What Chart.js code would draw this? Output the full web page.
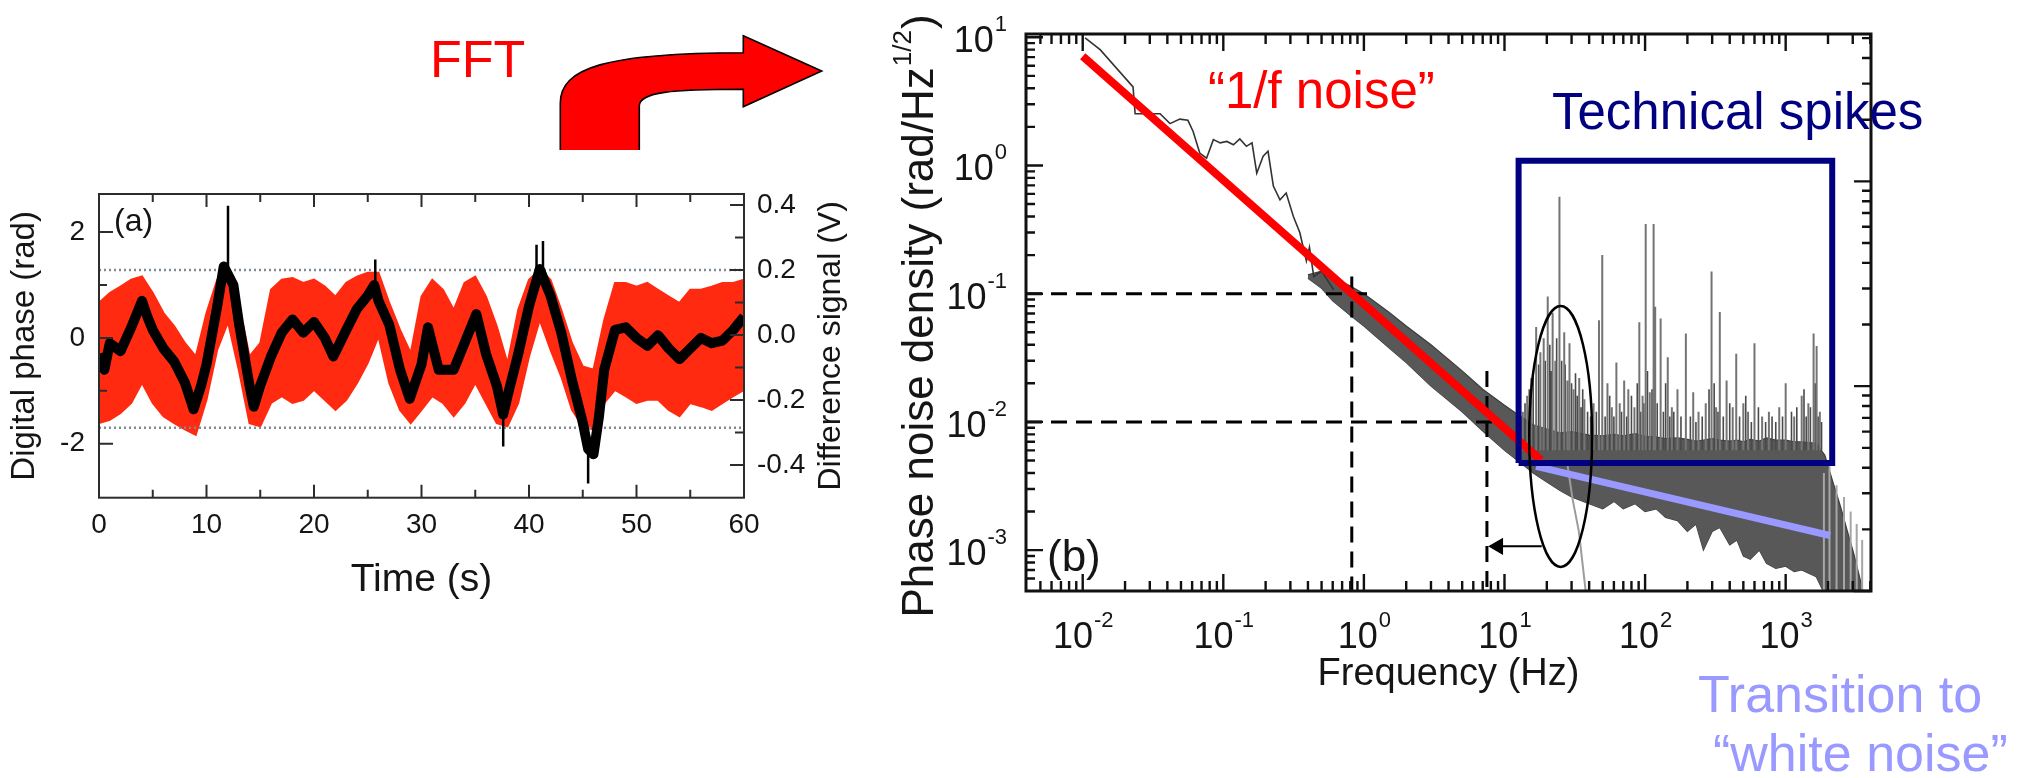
<!DOCTYPE html>
<html>
<head>
<meta charset="utf-8">
<script src="https://cdn.jsdelivr.net/npm/chart.js@4.4.1/dist/chart.umd.min.js"></script>
<style>
  html, body { margin: 0; padding: 0; background: #fff; }
  #wrap { position: relative; width: 2026px; height: 778px; overflow: hidden; }
  #phaseChart { position: absolute; left: 0; top: 0; }
  #noiseChart { position: absolute; left: 880px; top: 0; }
</style>
</head>
<body>
<div id="wrap">
  <canvas id="phaseChart" width="880" height="778"></canvas>
  <canvas id="noiseChart" width="1146" height="778"></canvas>
</div>
<script>
const FONT = "'Liberation Sans', Arial, Helvetica, sans-serif";
const INK = '#151515';

// ---------- (a) phase vs time ----------
const timeSec = [0, 1, 2, 3, 4, 5, 6, 7, 8, 9, 10, 11, 12, 13, 14, 15, 16, 17, 18, 19, 20,
  21, 22, 23, 24, 25, 26, 27, 28, 29, 30, 31, 32, 33, 34, 35, 36, 37, 38, 39, 40,
  41, 42, 43, 44, 45, 46, 47, 48, 49, 50, 51, 52, 53, 54, 55, 56, 57, 58, 59, 60];
const redUpper = [0.66, 0.85, 0.97, 1.1, 1.16, 0.85, 0.47, 0.22, -0.1, -0.35, 0.47,
  1.1, 1.23, 0.66, -0.35, -0.1, 0.91, 1.1, 1.13, 1.04, 1.1,
  0.97, 0.78, 1.04, 1.16, 1.23, 1.23, 0.66, 0.15, -0.29, 0.78,
  1.1, 0.91, 0.53, 1.04, 1.16, 0.78, 0.22, -0.48, 0.53, 1.1,
  1.29, 1.1, 0.53, -0.1, -0.54, -0.6, 0.34, 1.04, 1.04, 0.97,
  1.04, 0.91, 0.78, 0.66, 0.91, 0.91, 0.97, 1.04, 1.04, 1.1];
const redLower = [-1.61, -1.55, -1.42, -1.23, -0.85, -1.23, -1.48, -1.61, -1.73, -1.83, -1.17,
  -0.22, 0.3, -0.6, -1.61, -1.67, -1.23, -1.1, -1.23, -1.17, -0.98,
  -1.17, -1.36, -1.17, -0.85, -0.47, 0.03, -0.85, -1.36, -1.61, -1.36,
  -1.1, -1.23, -1.48, -1.23, -0.85, -1.23, -1.61, -1.67, -1.23, -0.35,
  0.34, -0.22, -0.73, -1.36, -1.67, -1.73, -1.23, -0.98, -1.1, -1.23,
  -1.17, -1.17, -1.36, -1.48, -1.23, -1.29, -1.36, -1.23, -1.1, -0.98];
const blackTime = [0, 0.5, 1, 2, 3, 4, 4.5, 5, 6, 7, 8, 8.8, 9.5, 10, 11, 11.6, 12, 12.5, 13, 14,
  14.4, 15, 16, 17, 18, 19, 20, 21, 21.8, 23, 24, 25, 25.6, 26, 27, 28, 28.9, 30, 30.6, 31.6,
  33, 34, 35.1, 36, 37, 37.6, 38, 39, 40, 41, 42, 43, 44, 45, 45.5, 46, 46.5, 47, 48,
  49, 50, 51, 52, 53, 54, 55, 56, 57, 58, 59, 60];
const blackPhase = [-0.3, -0.6, -0.1, -0.25, 0.2, 0.7, 0.4, 0.15, -0.2, -0.45, -0.85, -1.35, -0.9, -0.5, 0.6, 1.35, 1.2, 1.0, 0.3, -0.9,
  -1.3, -0.9, -0.35, 0.1, 0.35, 0.1, 0.3, 0.0, -0.35, 0.15, 0.55, 0.8, 1.0, 0.7, 0.25, -0.6, -1.15, -0.5, 0.2, -0.6,
  -0.6, -0.1, 0.45, -0.3, -0.9, -1.45, -1.1, -0.3, 0.6, 1.3, 0.8, 0.1, -0.8, -1.6, -2.1, -2.2, -1.5, -0.6, 0.15,
  0.2, 0.0, -0.15, 0.05, -0.2, -0.4, -0.2, 0.0, -0.1, -0.05, 0.15, 0.4];
const spikeTime = [12.0, 25.7, 37.6, 40.7, 41.3, 45.5];
const spikeFrom = [1.3, 0.9, -1.4, 1.2, 1.2, -2.1];
const spikeTo = [2.5, 1.48, -2.05, 1.76, 1.83, -2.75];
const thresholdVolt = [0.2, -0.285];

const timeMajor = [0, 10, 20, 30, 40, 50, 60];
const timeMinor = [5, 15, 25, 35, 45, 55];
const phaseMajor = [-2, 0, 2];
const phaseMinor = [-1, 1];
const voltMajor = [-0.4, -0.2, 0, 0.2, 0.4];
const voltMinor = [-0.3, -0.1, 0.1, 0.3];

// ---------- (b) noise spectrum ----------
const lowFreq = [0.0104, 0.0133, 0.0228, 0.0236, 0.0355, 0.0418, 0.049, 0.056, 0.061, 0.068, 0.076,
  0.085, 0.095, 0.106, 0.118, 0.131, 0.146, 0.16, 0.173, 0.192, 0.208, 0.227, 0.253, 0.28,
  0.315, 0.35, 0.39, 0.41, 0.44, 0.5, 0.61];
const lowDensity = [9.9, 8.0, 4.1, 2.53, 2.53, 2.12, 2.3, 2.25, 1.84, 1.25, 1.14,
  1.59, 1.5, 1.54, 1.45, 1.61, 1.41, 1.5, 0.87, 1.18, 1.29, 0.69, 0.54, 0.61,
  0.4, 0.3, 0.18, 0.23, 0.136, 0.15, 0.107];
const bandFreq = [0.4, 0.5, 0.6, 0.8, 1, 1.5, 2, 3, 5, 7, 10, 13, 16, 20, 25, 30, 40, 50, 60, 70,
  85, 100, 120, 140, 170, 200, 230, 260, 300, 340, 400, 450, 500, 560, 650, 730, 850, 1000,
  1150, 1300, 1650, 1900, 2150, 2450, 2750, 3050, 3400, 3600];
const bandTop = [0.14, 0.15, 0.135, 0.115, 0.1, 0.072, 0.056, 0.04, 0.025, 0.018, 0.0135, 0.011,
  0.0095, 0.0088, 0.0082, 0.0084, 0.0079, 0.0078, 0.008, 0.0078, 0.0081, 0.0077, 0.0076, 0.0074,
  0.0075, 0.0073, 0.0071, 0.0072, 0.0074, 0.0072, 0.0071, 0.0072, 0.007, 0.0073, 0.0071, 0.0075,
  0.0072, 0.0072, 0.007, 0.007, 0.0068, 0.0055, 0.0035, 0.0022, 0.0014, 0.00094, 0.00058, 0.00045];
const bandBottom = [0.132, 0.11, 0.088, 0.068, 0.056, 0.038, 0.029, 0.019, 0.012, 0.0085, 0.006, 0.0048,
  0.004, 0.0034, 0.0029, 0.0026, 0.0023, 0.0021, 0.0024, 0.0021, 0.0023, 0.002, 0.0021, 0.0018,
  0.0017, 0.0014, 0.0016, 0.001, 0.0014, 0.0015, 0.0011, 0.0012, 0.0009, 0.00085, 0.001, 0.00079,
  0.00072, 0.00075, 0.00068, 0.0007, 0.00062, 0.00045, 0.0004, 0.0004, 0.0004, 0.0004, 0.0004, 0.0004];
const spikeFreq = [13.5, 14.5, 15.5, 16.8, 18, 19, 20.3, 22, 23, 24.6, 26.6, 28, 29, 31, 34, 37, 43, 47,
  49.6, 54, 58, 62.5, 66, 71, 76, 84, 91, 96, 101, 108, 115, 118, 129, 145, 155, 170, 195, 220,
  240, 270, 297, 320, 340, 380, 420, 445, 500, 540, 600, 680, 760, 900, 1000, 1150, 1300, 1450,
  1580, 1660, 1750];
const spikeTop = [0.012, 0.016, 0.022, 0.055, 0.035, 0.045, 0.095, 0.071, 0.03, 0.57, 0.05, 0.021, 0.041,
  0.018, 0.022, 0.015, 0.014, 0.062, 0.2, 0.02, 0.013, 0.029, 0.014, 0.021, 0.018, 0.013, 0.06, 0.016,
  0.35, 0.017, 0.35, 0.079, 0.064, 0.032, 0.013, 0.018, 0.049, 0.017, 0.012, 0.014, 0.149, 0.013,
  0.072, 0.021, 0.013, 0.034, 0.014, 0.012, 0.041, 0.011, 0.012, 0.013, 0.02, 0.011, 0.016, 0.014,
  0.049, 0.039, 0.012];
const smallSpikeFreq = [13, 14, 15, 16, 17.5, 19.5, 21, 21.5, 23.5, 25.5, 27, 30, 32, 33, 35, 36, 39, 41,
  45, 52, 56, 60, 68, 74, 80, 88, 93, 98, 104, 112, 122, 135, 140, 150, 160, 180, 210, 230, 255,
  285, 310, 330, 360, 400, 470, 520, 570, 640, 720, 800, 850, 950, 1100, 1200, 1350, 1400, 1500,
  1620, 1700, 1800];
const smallSpikeTop = [0.011, 0.014, 0.018, 0.025, 0.028, 0.03, 0.04, 0.025, 0.045, 0.03, 0.028, 0.02,
  0.024, 0.016, 0.013, 0.018, 0.012, 0.011, 0.012, 0.011, 0.016, 0.011, 0.012, 0.011, 0.016, 0.02,
  0.012, 0.014, 0.025, 0.018, 0.014, 0.012, 0.02, 0.011, 0.012, 0.011, 0.011, 0.01, 0.011, 0.018,
  0.02, 0.012, 0.011, 0.014, 0.011, 0.016, 0.01, 0.013, 0.01, 0.011, 0.01, 0.011, 0.012, 0.013,
  0.018, 0.011, 0.013, 0.02, 0.011, 0.01];
const SPIKE_FLOOR = 0.006;
const rollOffFreq = [1870, 2050, 2300, 2600, 2900, 3200, 3500];
const rollOffTop = [0.004, 0.0045, 0.0032, 0.0026, 0.002, 0.0016, 0.0012];
const traceFreq = [28, 30.5, 33.8, 37.8];
const traceDensity = [0.0047, 0.0025, 0.0014, 0.00048];

const oneOverFFreq = [0.01, 18.2];
const oneOverFDensity = [7.1, 0.00502];
const whiteFreq = [16.8, 2066];
const whiteDensity = [0.0045, 0.0013];
const guideFreq = [0.82, 7.5];
const guideLevel = [0.1, 0.01];
const guideTop = [0.136, 0.025];
const guideEnd = [1.16, 8.7];
const spikeBoxFreq = [12.6, 2143];
const spikeBoxLevel = [0.00479, 1.09];
const ellipseFreq = [15, 42];
const ellipseLevel = [0.00074, 0.08];
const arrowFreq = [18.4, 9.0];
const arrowLevel = 0.00107;

const freqRange = [0.00395, 4045];
const densityRange = [4.8e-4, 10.6];
const freqExponents = [-2, -1, 0, 1, 2, 3];
const densityExponents = [1, 0, -1, -2, -3];

// ---------- helpers ----------
function pts(xs, ys) {
  return xs.map((x, i) => ({ x: x, y: ys[i] }));
}

function fixedTicks(major, minor) {
  return function (scale) {
    scale.ticks = major.concat(minor).sort((a, b) => a - b).map(v => ({ value: v }));
  };
}

function isDecadeStep(v) {
  const s = v / Math.pow(10, Math.floor(Math.log10(v) + 1e-9));
  return Math.abs(s - Math.round(s)) < 1e-6;
}

function isDecade(v) {
  const s = v / Math.pow(10, Math.floor(Math.log10(v) + 1e-9));
  return Math.abs(s - 1) < 1e-6;
}

function verticalSegments(xs, from, tops) {
  return xs.flatMap((x, i) => [
    { x: x, y: Array.isArray(from) ? from[i] : from }, { x: x, y: tops[i] }, { x: x, y: null }
  ]);
}

// ---------- chart (a) ----------
const RED = '#ff2a10';

const phaseDecor = {
  id: 'phaseDecor',
  afterDraw(chart) {
    const { ctx, chartArea: a, scales } = chart;
    ctx.save();
    ctx.strokeStyle = '#2c2c2c';
    ctx.lineWidth = 2;
    ctx.strokeRect(a.left, a.top, a.right - a.left, a.bottom - a.top);

    ctx.beginPath();
    scales.x.ticks.forEach(t => {
      const p = scales.x.getPixelForValue(t.value);
      const len = timeMajor.includes(t.value) ? 13 : 8;
      ctx.moveTo(p, a.bottom); ctx.lineTo(p, a.bottom - len);
      ctx.moveTo(p, a.top); ctx.lineTo(p, a.top + len);
    });
    scales.y.ticks.forEach(t => {
      const p = scales.y.getPixelForValue(t.value);
      const len = phaseMajor.includes(t.value) ? 14 : 8;
      ctx.moveTo(a.left, p); ctx.lineTo(a.left + len, p);
    });
    scales.y2.ticks.forEach(t => {
      const p = scales.y2.getPixelForValue(t.value);
      const len = voltMajor.includes(t.value) ? 14 : 9;
      ctx.moveTo(a.right, p); ctx.lineTo(a.right - len, p);
    });
    ctx.stroke();

    // right axis title, reads bottom to top
    ctx.fillStyle = INK;
    ctx.font = '32px ' + FONT;
    ctx.textAlign = 'center';
    ctx.textBaseline = 'middle';
    ctx.translate(831, (a.top + a.bottom) / 2);
    ctx.rotate(-Math.PI / 2);
    ctx.fillText('Difference signal (V)', 0, 0);
    ctx.setTransform(1, 0, 0, 1, 0, 0);

    ctx.textAlign = 'left';
    ctx.textBaseline = 'alphabetic';
    ctx.font = '32px ' + FONT;
    ctx.fillText('(a)', 114, 231);

    // FFT label and bent arrow
    ctx.fillStyle = '#ff0000';
    ctx.font = '52px ' + FONT;
    ctx.fillText('FFT', 430, 77);

    ctx.beginPath();
    ctx.moveTo(560.3, 150);
    ctx.lineTo(560.3, 103.3);
    ctx.bezierCurveTo(560.3, 68, 605, 53, 743.3, 52.7);
    ctx.lineTo(743.3, 35.7);
    ctx.lineTo(821.7, 71);
    ctx.lineTo(743.3, 106.7);
    ctx.lineTo(743.3, 89.3);
    ctx.bezierCurveTo(672, 89.3, 639.3, 92, 639.3, 106);
    ctx.lineTo(639.3, 150);
    ctx.fillStyle = '#ff0000';
    ctx.fill();
    ctx.strokeStyle = '#000';
    ctx.lineWidth = 1.6;
    ctx.stroke();
    ctx.restore();
  }
};

new Chart(document.getElementById('phaseChart').getContext('2d'), {
  type: 'line',
  data: {
    datasets: [
      {
        label: 'Digital phase',
        data: pts(blackTime, blackPhase),
        borderColor: '#000',
        borderWidth: 10,
        borderJoinStyle: 'round',
        yAxisID: 'y',
        order: 1
      },
      {
        label: 'Phase spikes',
        data: verticalSegments(spikeTime, spikeFrom, spikeTo),
        borderColor: '#000',
        borderWidth: 2.5,
        yAxisID: 'y',
        order: 1
      },
      {
        label: 'Upper threshold',
        data: [{ x: 0, y: thresholdVolt[0] }, { x: 60, y: thresholdVolt[0] }],
        borderColor: '#7f8a92',
        borderWidth: 2.5,
        borderDash: [2, 3],
        yAxisID: 'y2',
        order: 2
      },
      {
        label: 'Lower threshold',
        data: [{ x: 0, y: thresholdVolt[1] }, { x: 60, y: thresholdVolt[1] }],
        borderColor: '#7f8a92',
        borderWidth: 2.5,
        borderDash: [2, 3],
        yAxisID: 'y2',
        order: 2
      },
      {
        label: 'Difference signal max',
        data: pts(timeSec, redUpper),
        borderColor: RED,
        backgroundColor: RED,
        borderWidth: 2,
        fill: '+1',
        yAxisID: 'y',
        order: 3
      },
      {
        label: 'Difference signal min',
        data: pts(timeSec, redLower),
        borderColor: RED,
        borderWidth: 2,
        yAxisID: 'y',
        order: 3
      }
    ]
  },
  options: {
    responsive: false,
    animation: false,
    devicePixelRatio: 1,
    events: [],
    layout: { padding: { top: 194, left: 0, right: 0, bottom: 0 } },
    elements: { point: { radius: 0 }, line: { tension: 0 } },
    plugins: { legend: { display: false }, tooltip: { enabled: false } },
    scales: {
      x: {
        type: 'linear',
        min: 0,
        max: 60,
        afterBuildTicks: fixedTicks(timeMajor, timeMinor),
        afterFit: s => { s.height = 280.3; },
        grid: { display: false, drawTicks: false },
        border: { display: false },
        ticks: {
          autoSkip: false, maxRotation: 0, padding: 11, color: INK,
          font: { family: FONT, size: 28 },
          callback: v => timeMajor.includes(v) ? String(v) : ''
        },
        title: {
          display: true, text: 'Time (s)', color: INK,
          font: { family: FONT, size: 39 },
          padding: { top: 0, bottom: 174 }
        }
      },
      y: {
        type: 'linear',
        min: -3.02,
        max: 2.72,
        afterBuildTicks: fixedTicks(phaseMajor, phaseMinor),
        afterFit: s => { s.width = 99; },
        grid: { display: false, drawTicks: false },
        border: { display: false },
        ticks: {
          autoSkip: false, padding: 14, color: INK,
          font: { family: FONT, size: 28 },
          callback: v => phaseMajor.includes(v) ? String(v) : ''
        },
        title: {
          display: true, text: 'Digital phase (rad)', color: INK,
          font: { family: FONT, size: 33 },
          padding: { top: 5, bottom: 0 }
        }
      },
      y2: {
        type: 'linear',
        position: 'right',
        min: -0.5006,
        max: 0.434,
        afterBuildTicks: fixedTicks(voltMajor, voltMinor),
        afterFit: s => { s.width = 136; },
        grid: { display: false, drawTicks: false },
        border: { display: false },
        ticks: {
          autoSkip: false, padding: 13, color: INK,
          font: { family: FONT, size: 28 },
          callback: v => voltMajor.includes(v) ? v.toFixed(1) : ''
        }
      }
    }
  },
  plugins: [phaseDecor]
});

// ---------- chart (b) ----------
function powLabel(ctx, exp, x, y, align) {
  const base = '10';
  const sup = String(exp);
  ctx.font = '36px ' + FONT;
  const wb = ctx.measureText(base).width;
  ctx.font = '22px ' + FONT;
  const ws = ctx.measureText(sup).width;
  const left = align === 'center' ? x - (wb + ws) / 2 : x - wb - ws - 1;
  ctx.font = '36px ' + FONT;
  ctx.fillText(base, left, y);
  ctx.font = '22px ' + FONT;
  ctx.fillText(sup, left + wb + 1, y - 21);
}

const noiseDecor = {
  id: 'noiseDecor',
  afterDatasetsDraw(chart) {
    const { ctx, scales } = chart;
    const x1 = scales.x.getPixelForValue(ellipseFreq[0]);
    const x2 = scales.x.getPixelForValue(ellipseFreq[1]);
    const y1 = scales.y.getPixelForValue(ellipseLevel[1]);
    const y2 = scales.y.getPixelForValue(ellipseLevel[0]);
    ctx.save();
    ctx.strokeStyle = '#000';
    ctx.lineWidth = 2.5;
    ctx.beginPath();
    ctx.ellipse((x1 + x2) / 2, (y1 + y2) / 2, (x2 - x1) / 2, (y2 - y1) / 2, 0, 0, Math.PI * 2);
    ctx.stroke();
    ctx.restore();
  },
  afterDraw(chart) {
    const { ctx, chartArea: a, scales } = chart;
    ctx.save();
    ctx.strokeStyle = '#111';
    ctx.lineWidth = 3;
    ctx.strokeRect(a.left, a.top, a.right - a.left, a.bottom - a.top);

    ctx.lineWidth = 2.4;
    ctx.beginPath();
    scales.x.ticks.forEach(t => {
      if (!isDecadeStep(t.value)) return;
      const p = scales.x.getPixelForValue(t.value);
      const len = isDecade(t.value) ? 17 : 10;
      ctx.moveTo(p, a.bottom); ctx.lineTo(p, a.bottom - len);
      ctx.moveTo(p, a.top); ctx.lineTo(p, a.top + len);
    });
    scales.y.ticks.forEach(t => {
      if (!isDecadeStep(t.value)) return;
      const p = scales.y.getPixelForValue(t.value);
      const len = isDecade(t.value) ? 17 : 9;
      ctx.moveTo(a.left, p); ctx.lineTo(a.left + len, p);
    });
    scales.y2.ticks.forEach(t => {
      if (!isDecadeStep(t.value)) return;
      const p = scales.y2.getPixelForValue(t.value);
      const len = isDecade(t.value) ? 17 : 9;
      ctx.moveTo(a.right, p); ctx.lineTo(a.right - len, p);
    });
    ctx.stroke();

    // tick labels with superscript exponents
    ctx.fillStyle = INK;
    ctx.textAlign = 'left';
    ctx.textBaseline = 'alphabetic';
    freqExponents.forEach(e => {
      const p = scales.x.getPixelForValue(Math.pow(10, e));
      powLabel(ctx, e, p, a.bottom + 57, 'center');
    });
    densityExponents.forEach(e => {
      const p = scales.y.getPixelForValue(Math.pow(10, e));
      powLabel(ctx, e, a.left - 19, p + 15, 'right');
    });

    // y axis title with superscript
    const main = 'Phase noise density (rad/Hz';
    ctx.font = '44px ' + FONT;
    const wm = ctx.measureText(main).width;
    const wc = ctx.measureText(')').width;
    ctx.font = '26px ' + FONT;
    const wsup = ctx.measureText('1/2').width;
    const total = wm + wsup + wc + 2;
    ctx.translate(53, 316);
    ctx.rotate(-Math.PI / 2);
    ctx.font = '44px ' + FONT;
    ctx.fillText(main, -total / 2, 0);
    ctx.font = '26px ' + FONT;
    ctx.fillText('1/2', -total / 2 + wm + 1, -22);
    ctx.font = '44px ' + FONT;
    ctx.fillText(')', -total / 2 + wm + wsup + 2, 0);
    ctx.setTransform(1, 0, 0, 1, 0, 0);

    ctx.font = '44px ' + FONT;
    ctx.fillText('(b)', 167, 571);

    // annotations
    ctx.font = '51px ' + FONT;
    ctx.fillStyle = '#ff0000';
    ctx.fillText('\u201c1/f noise\u201d', 328, 108);
    ctx.fillStyle = '#000080';
    ctx.fillText('Technical spikes', 672, 129);
    ctx.font = '52px ' + FONT;
    ctx.fillStyle = '#9999ff';
    ctx.fillText('Transition to', 818, 712);
    ctx.fillText('\u201cwhite noise\u201d', 833, 771);
    ctx.restore();
  }
};

const guideSets = [];
guideFreq.forEach((f, i) => {
  guideSets.push({
    label: 'Guide level ' + i,
    data: [{ x: freqRange[0], y: guideLevel[i] }, { x: guideEnd[i], y: guideLevel[i] }],
    borderColor: '#000', borderWidth: 3, borderDash: [16, 9], order: 7
  });
  guideSets.push({
    label: 'Guide frequency ' + i,
    data: [{ x: f, y: guideTop[i] }, { x: f, y: densityRange[0] }],
    borderColor: '#000', borderWidth: 3, borderDash: [16, 9], order: 7
  });
});

const boxPoints = [
  { x: spikeBoxFreq[0], y: spikeBoxLevel[0] },
  { x: spikeBoxFreq[0], y: spikeBoxLevel[1] },
  { x: spikeBoxFreq[1], y: spikeBoxLevel[1] },
  { x: spikeBoxFreq[1], y: spikeBoxLevel[0] },
  { x: spikeBoxFreq[0], y: spikeBoxLevel[0] }
];

new Chart(document.getElementById('noiseChart').getContext('2d'), {
  type: 'line',
  data: {
    datasets: [
      {
        label: 'Spectrum upper',
        data: pts(bandFreq, bandTop),
        borderColor: '#3c3c3c', backgroundColor: '#585858', borderWidth: 1.2,
        fill: '+1', order: 10
      },
      {
        label: 'Spectrum lower',
        data: pts(bandFreq, bandBottom),
        borderColor: '#3c3c3c', borderWidth: 1.2, order: 10
      },
      { label: 'Technical spikes', data: verticalSegments(spikeFreq, SPIKE_FLOOR, spikeTop), borderColor: '#747474', borderWidth: 2, order: 9 },
      { label: 'Small spikes', data: verticalSegments(smallSpikeFreq, SPIKE_FLOOR, smallSpikeTop), borderColor: '#4a4a4a', borderWidth: 1.6, order: 9 },
      { label: 'Roll-off', data: verticalSegments(rollOffFreq, densityRange[0] * 0.8, rollOffTop), borderColor: '#a6a6a6', borderWidth: 2, order: 9 },
      { label: 'Trace', data: pts(traceFreq, traceDensity), borderColor: '#9c9c9c', borderWidth: 2, order: 9 },
      { label: 'Low frequency spectrum', data: pts(lowFreq, lowDensity), borderColor: '#333', borderWidth: 1.6, order: 8 },
      ...guideSets,
      { label: 'White noise', data: pts(whiteFreq, whiteDensity), borderColor: '#9999ff', borderWidth: 7, order: 5 },
      { label: '1/f noise', data: pts(oneOverFFreq, oneOverFDensity), borderColor: '#ff0000', borderWidth: 8, order: 4 },
      { label: 'Spike box', data: boxPoints, borderColor: '#000080', borderWidth: 6, borderJoinStyle: 'miter', order: 3 },
      {
        label: 'Arrow',
        data: [{ x: arrowFreq[0], y: arrowLevel }, { x: arrowFreq[1], y: arrowLevel }],
        borderColor: '#000', borderWidth: 2,
        pointRadius: [0, 8], pointStyle: 'triangle', pointRotation: 270,
        pointBackgroundColor: '#000', pointBorderColor: '#000', order: 2
      }
    ]
  },
  options: {
    responsive: false,
    animation: false,
    devicePixelRatio: 1,
    events: [],
    layout: { padding: { top: 34, left: 0, right: 0, bottom: 0 } },
    elements: { point: { radius: 0 }, line: { tension: 0 } },
    plugins: { legend: { display: false }, tooltip: { enabled: false } },
    scales: {
      x: {
        type: 'logarithmic',
        min: freqRange[0],
        max: freqRange[1],
        afterFit: s => { s.height = 187; },
        grid: { display: false, drawTicks: false },
        border: { display: false },
        ticks: { display: false },
        title: {
          display: true, text: 'Frequency (Hz)', color: INK,
          font: { family: FONT, size: 38 },
          padding: { top: 0, bottom: 81 }
        }
      },
      y: {
        type: 'logarithmic',
        min: densityRange[0],
        max: densityRange[1],
        afterFit: s => { s.width = 146; },
        grid: { display: false, drawTicks: false },
        border: { display: false },
        ticks: { display: false }
      },
      y2: {
        type: 'logarithmic',
        display: true,
        position: 'right',
        min: 0.1,
        max: 52.4,
        afterFit: s => { s.width = 155; },
        grid: { display: false, drawTicks: false },
        border: { display: false },
        ticks: { display: false }
      }
    }
  },
  plugins: [noiseDecor]
});
</script>
</body>
</html>
